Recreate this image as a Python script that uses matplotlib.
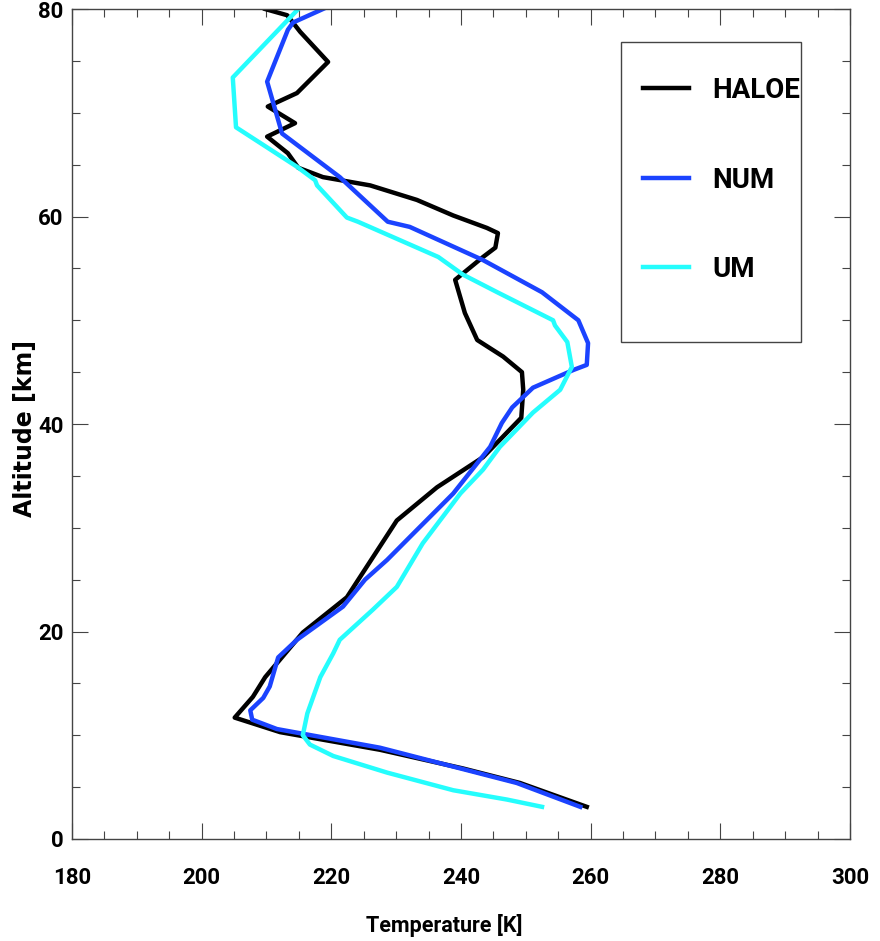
import matplotlib
matplotlib.use("Agg")
import matplotlib.pyplot as plt
from matplotlib.patches import Rectangle
from matplotlib.ticker import MultipleLocator

NARROW = ["Roboto", "DejaVu Sans"]

# temperature profiles (K) vs altitude (km)
haloe_alt = [80.0, 79.4, 77.8, 74.9, 71.9, 70.6, 69.0, 67.7, 66.1, 64.7, 63.8,
             63.0, 61.6, 60.1, 58.9, 58.4, 57.0, 56.1, 53.9, 50.7, 48.1, 46.5,
             45.0, 43.3, 40.6, 36.8, 33.9, 30.7, 23.3, 19.9, 15.6, 13.7, 11.7,
             10.3, 8.6, 6.8, 5.4, 3.1]
haloe_temp = [209.8, 213.2, 215.2, 219.5, 214.7, 210.2, 214.4, 210.1, 213.3,
              214.9, 218.7, 226.0, 233.2, 238.8, 244.0, 245.7, 245.3, 243.4,
              239.1, 240.6, 242.5, 246.5, 249.4, 249.6, 249.3, 243.4, 236.3,
              230.1, 222.4, 215.6, 209.8, 207.9, 205.1, 212.1, 227.5, 240.3,
              249.1, 259.4]

num_alt = [80.0, 78.7, 78.0, 73.0, 68.0, 63.8, 59.5, 59.0, 55.8, 52.7, 50.0,
           47.8, 45.7, 45.2, 43.5, 41.6, 40.1, 37.8, 33.3, 29.1, 26.9, 25.0,
           22.4, 19.2, 17.5, 14.7, 13.6, 12.4, 11.5, 10.6, 8.8, 5.4, 3.1]
num_temp = [218.7, 214.1, 213.3, 210.1, 212.4, 221.3, 228.7, 232.1, 243.4,
            252.5, 258.1, 259.6, 259.4, 257.3, 251.1, 247.9, 246.3, 244.5,
            238.8, 232.1, 228.6, 225.2, 221.8, 214.7, 211.8, 210.5, 209.5,
            207.5, 207.8, 211.6, 227.5, 248.6, 258.4]

um_alt = [80.0, 73.4, 68.6, 64.8, 63.5, 63.0, 59.9, 59.5, 56.1, 54.4, 52.7,
          50.0, 49.5, 47.9, 45.5, 43.3, 41.1, 37.8, 35.6, 33.3, 28.5, 24.3,
          22.1, 19.2, 17.9, 15.6, 12.1, 10.0, 9.1, 8.0, 6.4, 4.7, 3.8, 3.1]
um_temp = [214.9, 204.8, 205.3, 214.7, 217.5, 217.8, 222.4, 224.1, 236.5,
           240.3, 245.6, 254.2, 254.5, 256.4, 257.1, 255.3, 251.1, 246.0,
           243.4, 239.9, 234.1, 230.1, 226.4, 221.3, 220.3, 218.3, 216.3,
           215.6, 216.7, 220.3, 228.6, 238.8, 247.1, 252.5]

fig = plt.figure(figsize=(8.8, 9.41), dpi=100)
ax = fig.add_axes([0.0818, 0.1084, 0.8841, 0.882])

ax.plot(haloe_temp, haloe_alt, color="black", lw=3.2, label="HALOE")
ax.plot(num_temp, num_alt, color="#1b43ff", lw=3.2, label="NUM")
ax.plot(um_temp, um_alt, color="#25fdfd", lw=3.2, label="UM")

ax.set_xlim(180, 300)
ax.set_ylim(0, 80)
ax.xaxis.set_major_locator(MultipleLocator(20))
ax.xaxis.set_minor_locator(MultipleLocator(5))
ax.yaxis.set_major_locator(MultipleLocator(20))
ax.yaxis.set_minor_locator(MultipleLocator(5))

for s in ax.spines.values():
    s.set_color("#444444")
    s.set_linewidth(1)

ax.tick_params(which="both", direction="in", top=True, right=True,
               color="#444444", width=0.8)
ax.tick_params(which="major", length=11.5)
ax.tick_params(which="minor", length=5.8)
ax.tick_params(axis="x", which="major", pad=20)
ax.tick_params(axis="y", which="major", pad=6)

for lbl in ax.get_xticklabels() + ax.get_yticklabels():
    lbl.set_family(NARROW)
    lbl.set_weight("bold")
    lbl.set_fontsize(16)
ylabels = ax.get_yticklabels()
ylabels[-1].set_va("top")
ylabels[0].set_va("bottom")

ax.set_xlabel("Temperature [K]", family=NARROW, weight="bold", fontsize=15.5)
ax.xaxis.set_label_coords(0.478, -0.09)
ax.set_ylabel("Altitude [km]", family="DejaVu Sans", weight="bold",
              fontsize=17)
ax.yaxis.set_label_coords(-0.045, 0.495)

# legend: plain box with the entries laid out inside it
ax.add_patch(Rectangle((0.7057, 0.5988), 0.2314, 0.3614, transform=ax.transAxes,
                       facecolor="white", edgecolor="#444444", lw=1, zorder=4))
leg = ax.legend(loc="upper left", bbox_to_anchor=(0.734, 0.918),
                prop={"family": NARROW, "weight": "bold", "size": 20},
                handlelength=1.65, handletextpad=0.85, labelspacing=2.25,
                borderpad=0, frameon=False, borderaxespad=0)
leg.set_zorder(5)
for h in leg.get_lines():
    h.set_linewidth(3.2)

fig.savefig("out.png", dpi=100)
